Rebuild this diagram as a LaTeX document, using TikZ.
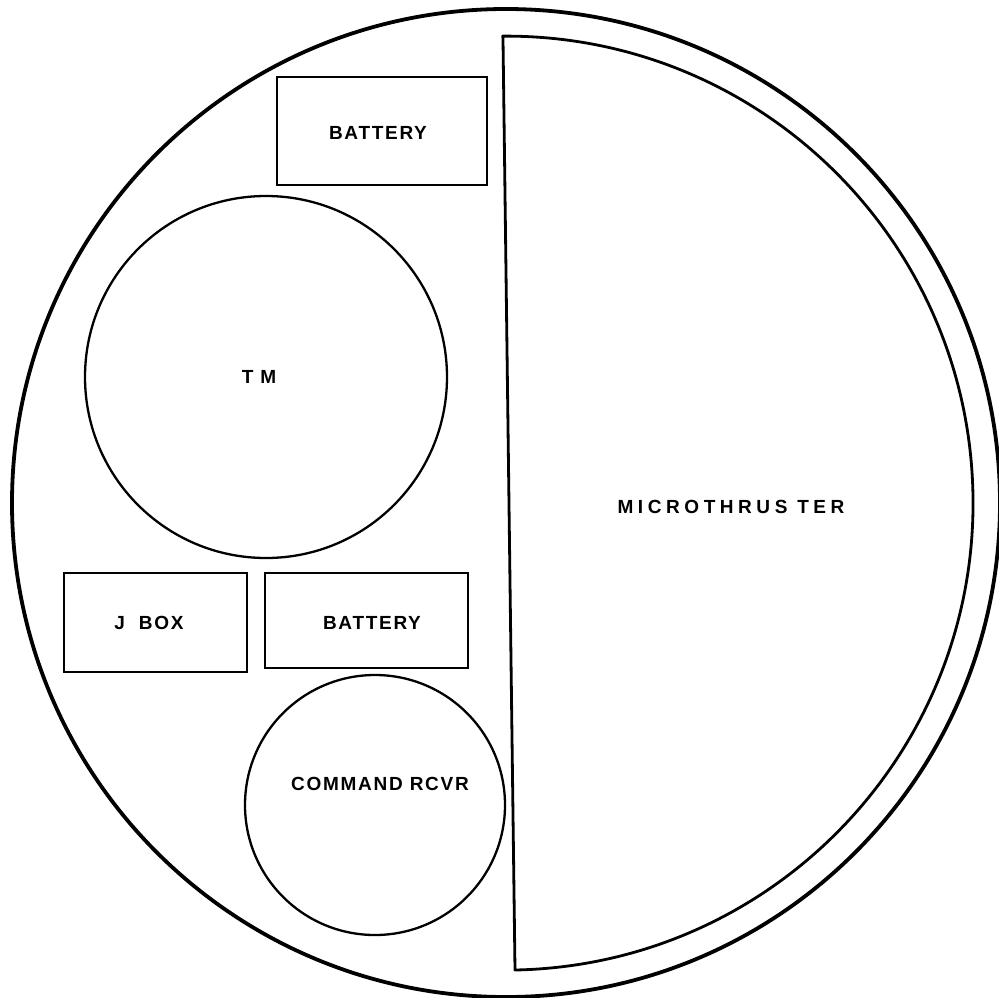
\documentclass[tikz,border=0pt]{standalone}
\usepackage{fontspec}
\newfontfamily\lblfont{Liberation Sans}[LetterSpace=9]
\newfontfamily\lblwide{Liberation Sans}[LetterSpace=24]
\begin{document}
\begin{tikzpicture}[x=1pt,y=1pt,
  part/.style={draw, line width=2.3pt, inner sep=0pt},
  boxpart/.style={part, rectangle},
  roundpart/.style={part, circle},
  lbl/.style={inner sep=0pt, font=\lblfont\bfseries\fontsize{19}{22}\selectfont},
  widelbl/.style={inner sep=0pt, font=\lblwide\bfseries\fontsize{19}{22}\selectfont}]
\useasboundingbox (0,0) rectangle (998,-998);
% outer shell
\draw[line width=3.8pt] (506,-503) circle[radius=494pt];
% microthruster (D shape)
\coordinate (mtop) at (503,-39);
\coordinate (mbot) at (515,-970);
\draw[line width=2.8pt, line join=round] (mtop) -- (mbot)
  arc[start angle=-88.9, end angle=90.4, radius=467pt] -- cycle;
\node[widelbl] (mt) at (731,-507) {MICROTHRUS TER};
% top battery
\node[boxpart, minimum width=210pt, minimum height=108pt] (bat1) at (382,-131) {};
\node[lbl] (bat1t) at (378,-133) {BATTERY};
% TM
\node[roundpart, minimum size=362pt] (tm) at (266,-377) {};
\node[lbl] (tmt) at (259,-377) {T M};
% J box
\node[boxpart, minimum width=183pt, minimum height=99pt] (jbox) at (155.5,-622.5) {};
\node[lbl] (jboxt) at (149,-623) {J\ \ BOX};
% bottom battery
\node[boxpart, minimum width=203pt, minimum height=95pt] (bat2) at (366.5,-620.5) {};
\node[lbl] (bat2t) at (372,-623) {BATTERY};
% command receiver
\node[roundpart, minimum size=260pt] (cmd) at (375,-805) {};
\node[lbl] (cmdt) at (380,-784) {COMMAND RCVR};
\end{tikzpicture}
\end{document}
